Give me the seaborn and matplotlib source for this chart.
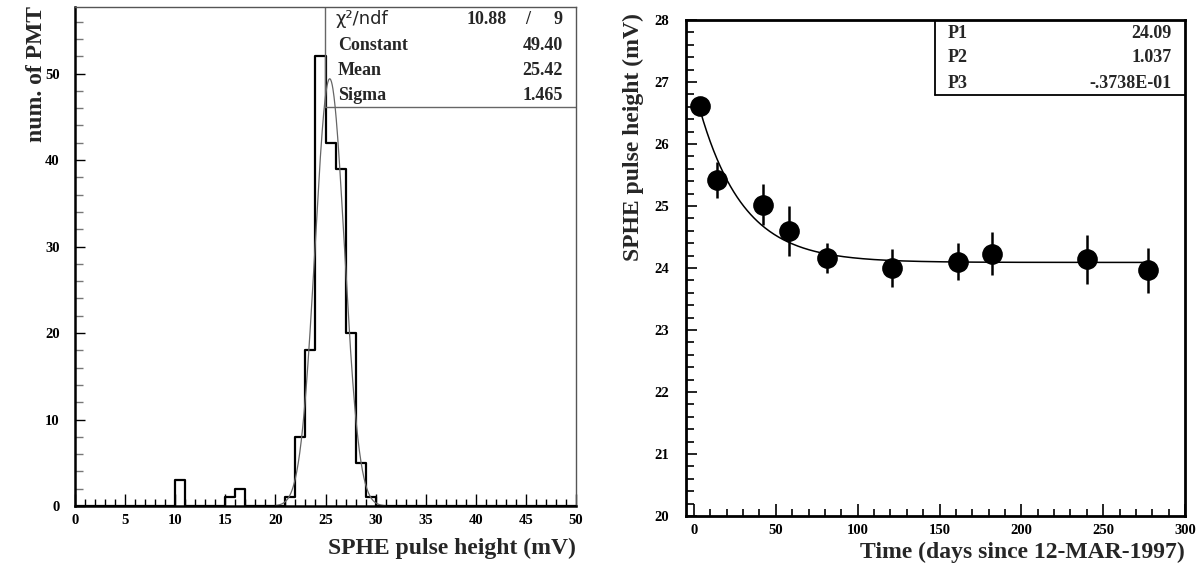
import numpy as np
import pandas as pd
import matplotlib
matplotlib.use("Agg")
import matplotlib.pyplot as plt
import seaborn as sns
from matplotlib.ticker import MultipleLocator

# ---------------- data ----------------
# histogram of SPHE pulse heights (1 mV bins), left edges of non-empty bins
hist_bin_left = [10, 15, 16, 21, 22, 23, 24, 25, 26, 27, 28, 29]
hist_counts = [3, 1, 2, 1, 8, 18, 52, 42, 39, 20, 5, 1]
hist_edges = list(range(0, 51))

# gaussian fit parameters
fit_chi2 = "10.88"
fit_ndf = "9"
fit_constant = 49.40
fit_mean = 25.42
fit_sigma = 1.465

# time evolution
days = [3.7, 13.9, 42.0, 58.2, 81.0, 121.0, 161.0, 181.9, 239.9, 277.5]
sphe = [26.62, 25.42, 25.02, 24.60, 24.16, 24.00, 24.10, 24.23, 24.14, 23.96]
sphe_err = [0.08, 0.29, 0.33, 0.40, 0.24, 0.30, 0.30, 0.35, 0.39, 0.37]

# exponential fit parameters  f = P1 + exp(P2 + P3 * t)
p1, p2, p3 = 24.09, 1.037, -0.03738
p_labels = ["P1", "P2", "P3"]
p_texts = ["24.09", "1.037", "-.3738E-01"]

# ---------------- style ----------------
sns.set_style("ticks")
plt.rcParams["font.family"] = ["Liberation Serif", "DejaVu Serif"]
plt.rcParams["font.weight"] = "bold"

W, H = 1204, 567
fig = plt.figure(figsize=(W / 100, H / 100), dpi=100)

def fx(px):
    return px / W

def fy(py):
    return 1 - py / H

# ---------------- left panel ----------------
ax1 = fig.add_axes([fx(75), fy(506), fx(576) - fx(75), fy(7) - fy(506)])
hist_df = pd.DataFrame({"x": np.array(hist_bin_left) + 0.5, "w": hist_counts})
sns.histplot(data=hist_df, x="x", weights="w", bins=hist_edges, element="step",
             fill=False, color="black", linewidth=1.6, ax=ax1)
gx = np.linspace(20.0, 31.0, 300)
gy = fit_constant * np.exp(-0.5 * ((gx - fit_mean) / fit_sigma) ** 2)
sns.lineplot(x=gx, y=gy, color="#666666", linewidth=0.9, ax=ax1)

ax1.set_xlim(0, 50)
ax1.set_ylim(0, 57.7)
ax1.set_xlabel("")
ax1.set_ylabel("")
ax1.xaxis.set_major_locator(MultipleLocator(5))
ax1.xaxis.set_minor_locator(MultipleLocator(1))
ax1.yaxis.set_major_locator(MultipleLocator(10))
ax1.yaxis.set_minor_locator(MultipleLocator(2))
ax1.tick_params(axis="both", which="both", direction="in", colors="black",
                labelsize=10.5, width=1.0)
ax1.tick_params(axis="x", which="major", length=9, pad=6)
ax1.tick_params(axis="x", which="minor", length=5)
ax1.tick_params(axis="y", which="major", length=7, pad=11)
ax1.tick_params(axis="y", which="minor", length=6, color="#777777")
for lab in ax1.get_xticklabels() + ax1.get_yticklabels():
    lab.set_fontweight("bold")
for s in ["left", "bottom"]:
    ax1.spines[s].set_linewidth(1.8)
    ax1.spines[s].set_color("black")
for s in ["top", "right"]:
    ax1.spines[s].set_linewidth(1.0)
    ax1.spines[s].set_color("#555555")
    ax1.spines[s].set_visible(True)

# stats box
ax1.plot([fx(325), fx(325)], [fy(7), fy(107)], transform=fig.transFigure,
         color="#666666", linewidth=1.0)
ax1.plot([fx(325), fx(576)], [fy(107), fy(107)], transform=fig.transFigure,
         color="#666666", linewidth=1.0)
fig.text(fx(336), fy(19), "\u03c7\u00b2/ndf", family=["DejaVu Sans"], fontweight="normal",
         fontsize=13, va="center", ha="left")
fig.text(fx(507), fy(19), fit_chi2, fontsize=13, fontweight="bold", va="center", ha="right")
fig.text(fx(528), fy(19), "/", fontsize=13, fontweight="bold", va="center", ha="center")
fig.text(fx(563), fy(19), fit_ndf, fontsize=13, fontweight="bold", va="center", ha="right")
rows = [("Constant", f"{fit_constant:.2f}"), ("Mean", f"{fit_mean:.2f}"),
        ("Sigma", f"{fit_sigma:.3f}")]
for i, (lab, val) in enumerate(rows):
    yy = 45 + i * 25.5
    fig.text(fx(338), fy(yy), lab, fontsize=13, fontweight="bold", va="center", ha="left")
    fig.text(fx(563), fy(yy), val, fontsize=13, fontweight="bold", va="center", ha="right")

fig.text(fx(36), fy(6), "num. of PMT", rotation=90, fontsize=17, fontweight="bold",
         va="top", ha="center")
fig.text(fx(576), fy(548), "SPHE pulse height (mV)", fontsize=17, fontweight="bold",
         va="center", ha="right")

# ---------------- right panel ----------------
ax2 = fig.add_axes([fx(686), fy(516), fx(1185) - fx(686), fy(20) - fy(516)])
tx = np.linspace(days[0], days[-1], 400)
ty = p1 + np.exp(p2 + p3 * tx)
sns.lineplot(x=tx, y=ty, color="black", linewidth=1.1, ax=ax2)
ax2.errorbar(days, sphe, yerr=sphe_err, fmt="none", ecolor="black", elinewidth=1.8,
             capsize=0)
sns.scatterplot(x=days, y=sphe, color="black", s=190, edgecolor="black", ax=ax2,
                zorder=5)
ax2.set_xlim(-4.9, 300)
ax2.set_ylim(20, 28)
ax2.xaxis.set_major_locator(MultipleLocator(50))
ax2.xaxis.set_minor_locator(MultipleLocator(10))
ax2.yaxis.set_major_locator(MultipleLocator(1))
ax2.yaxis.set_minor_locator(MultipleLocator(0.2))
ax2.tick_params(axis="both", which="both", direction="in", colors="black",
                labelsize=10.5, width=1.2)
ax2.tick_params(axis="x", which="major", length=9, pad=6)
ax2.tick_params(axis="x", which="minor", length=5)
ax2.tick_params(axis="y", which="major", length=8, pad=12)
ax2.tick_params(axis="y", which="minor", length=6)
for lab in ax2.get_xticklabels() + ax2.get_yticklabels():
    lab.set_fontweight("bold")
for s in ["left", "bottom", "top", "right"]:
    ax2.spines[s].set_linewidth(2.0)
    ax2.spines[s].set_color("black")
    ax2.spines[s].set_visible(True)

ax2.plot([fx(935), fx(935)], [fy(20), fy(95)], transform=fig.transFigure,
         color="black", linewidth=1.3)
ax2.plot([fx(935), fx(1185)], [fy(95), fy(95)], transform=fig.transFigure,
         color="black", linewidth=1.3)
for i, (lab, val) in enumerate(zip(p_labels, p_texts)):
    yy = 33 + i * 25
    fig.text(fx(948), fy(yy), lab, fontsize=13, fontweight="bold", va="center", ha="left")
    fig.text(fx(1172), fy(yy), val, fontsize=13, fontweight="bold", va="center", ha="right")

fig.text(fx(633), fy(13), "SPHE pulse height (mV)", rotation=90, fontsize=17,
         fontweight="bold", va="top", ha="center")
fig.text(fx(1185), fy(552), "Time (days since 12-MAR-1997)", fontsize=17,
         fontweight="bold", va="center", ha="right")

fig.savefig("out.png", dpi=100, facecolor="white")
